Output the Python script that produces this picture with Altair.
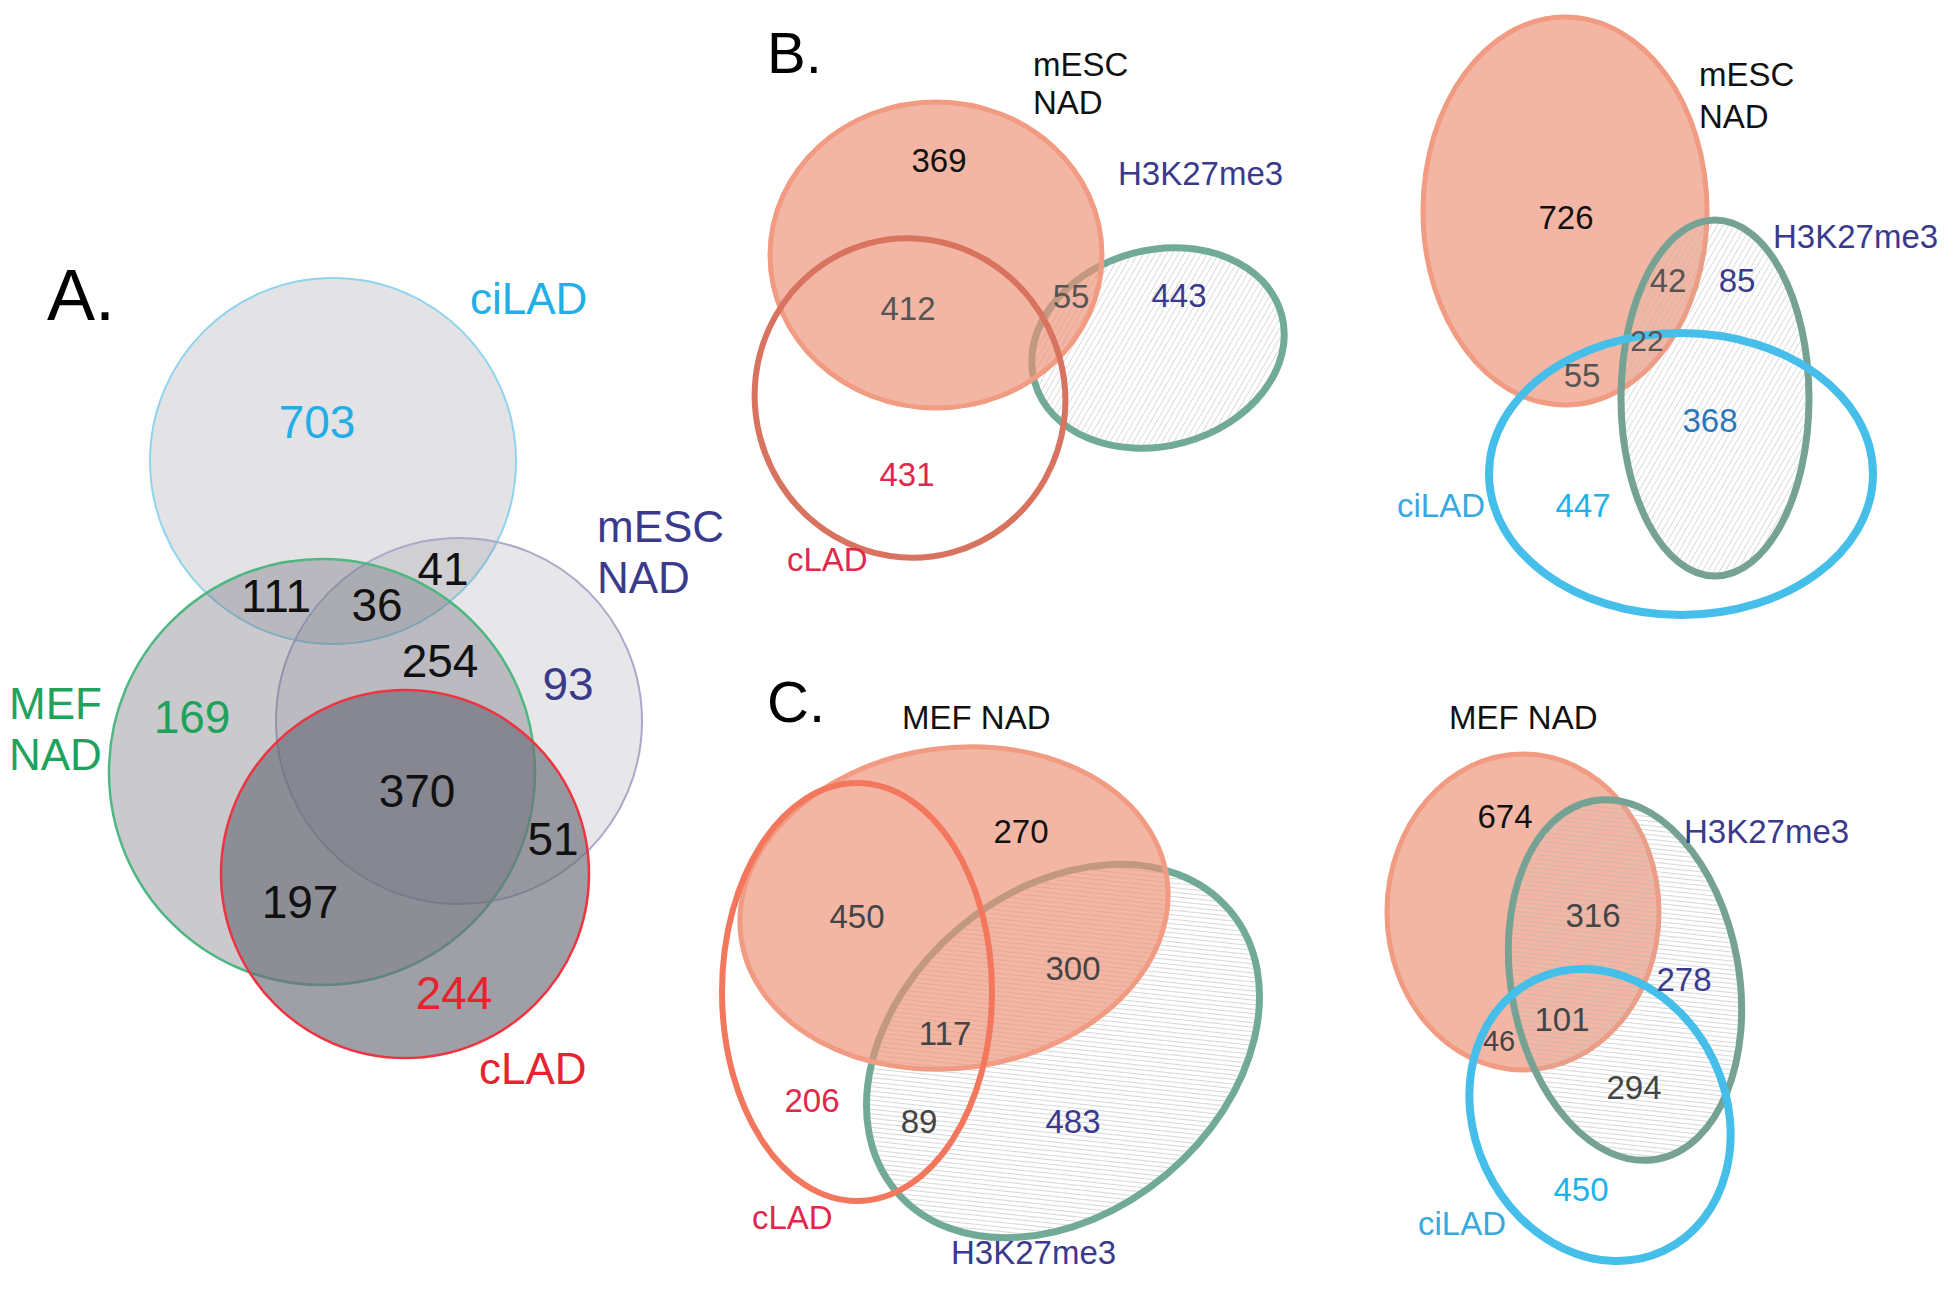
import altair as alt
import pandas as pd
import numpy as np

# ---------------- sets (ellipses), in reference pixel coordinates ----------------
ell_name   = ["A_ciLAD", "A_mESC", "A_MEF", "A_cLAD",
              "B1_H3K", "B1_mESC", "B1_cLAD",
              "B2_mESC", "B2_H3K", "B2_ciLAD",
              "C1_H3K", "C1_MEF", "C1_cLAD",
              "C2_MEF", "C2_H3K", "C2_ciLAD"]
ell_cx     = [333, 459, 322, 405, 1158, 936, 910, 1565, 1715, 1681, 1063, 954, 857, 1523, 1625, 1600]
ell_cy     = [461, 721, 772, 874, 348, 255, 398, 211, 398, 474, 1051, 908, 992, 912, 980, 1115]
ell_rx     = [183, 183, 213, 184, 128, 166, 155, 142, 94, 192, 218, 215, 135, 136, 114, 126]
ell_ry     = [183, 183, 213, 184, 98, 153, 160, 194, 178, 141, 161, 160, 209, 158, 182, 150]
ell_angle  = [0, 0, 0, 0, 345, 0, 345, 0, 0, 0, 320, 352, 0, 0, 350, 335]
ell_fill   = ["#6c6c78", "#6c6c78", "#6c6c78", "#6c6c78",
              "#ffffff", "#ee8f73", "#ffffff",
              "#ee8f73", "#ffffff", "#ffffff",
              "#ffffff", "#ee8f73", "#ffffff",
              "#ee8f73", "#ffffff", "#ffffff"]
ell_fillop = [0.19, 0.16, 0.36, 0.65, 0, 0.65, 0, 0.65, 0, 0, 0, 0.65, 0, 0.65, 0, 0]
ell_stroke = ["#8fd3ee", "#a9a9c9", "#4fb882", "#ef3340",
              "#72aa9a", "#f19b82", "#d8735f",
              "#f19b82", "#76a293", "#45bfea",
              "#72aa9a", "#f19b82", "#f2775c",
              "#f19b82", "#76a293", "#45bfea"]
ell_sw     = [2, 2, 2.5, 2.5, 7, 5, 6, 5, 7, 8, 7, 5, 6, 5, 7, 8]
ell_layer  = [1, 1, 1, 1, 1, 2, 3, 1, 2, 3, 1, 2, 3, 1, 2, 3]
ell_hatch  = [None, None, None, None, -60, None, None, None, -60, None, 6, None, None, None, 6, None]

# ---------------- count labels ----------------
num_text  = ["703", "111", "36", "41", "254", "93", "169", "370", "51", "197", "244",
             "369", "412", "55", "443", "431",
             "726", "42", "85", "22", "55", "368", "447",
             "270", "450", "300", "117", "206", "89", "483",
             "674", "316", "278", "101", "46", "294", "450"]
num_x     = [317, 276, 377, 443, 440, 568, 192, 417, 553, 300, 454,
             939, 908, 1071, 1179, 907,
             1566, 1668, 1737, 1647, 1582, 1710, 1583,
             1021, 857, 1073, 945, 812, 919, 1073,
             1505, 1593, 1684, 1562, 1499, 1634, 1581]
num_y     = [424, 598, 607, 571, 663, 686, 719, 793, 841, 904, 995,
             162, 310, 298, 297, 476,
             219, 282, 282, 342, 377, 422, 507,
             833, 918, 970, 1035, 1102, 1123, 1123,
             818, 917, 981, 1021, 1042, 1089, 1191]
num_color = ["#22aee6", "#111111", "#111111", "#111111", "#111111", "#3a3a8c", "#1fa35c",
             "#111111", "#111111", "#111111", "#e8222e",
             "#111111", "#555555", "#555555", "#3a3a8c", "#e0284a",
             "#111111", "#555555", "#3a3a8c", "#555555", "#555555", "#2b78b8", "#20b2ea",
             "#111111", "#444444", "#444444", "#444444", "#e0284a", "#444444", "#3a3a8c",
             "#111111", "#444444", "#3a3a8c", "#444444", "#444444", "#444444", "#20b2ea"]
num_size  = [46] * 11 + [33] * 8 + [30] + [33] * 14 + [29] + [33] * 2

# ---------------- set names / panel letters (left aligned) ----------------
lab_text  = ["ciLAD", "mESC", "NAD", "MEF", "NAD", "cLAD",
             "A.", "B.", "C.",
             "mESC", "NAD", "H3K27me3", "cLAD",
             "mESC", "NAD", "H3K27me3", "ciLAD",
             "MEF NAD", "cLAD", "H3K27me3",
             "MEF NAD", "H3K27me3", "ciLAD"]
lab_x     = [470, 597, 597, 9, 9, 479,
             47, 767, 767,
             1033, 1033, 1118, 787,
             1699, 1699, 1773, 1397,
             902, 752, 951,
             1449, 1684, 1418]
lab_y     = [301, 529, 580, 706, 757, 1071,
             298, 56, 705,
             66, 104, 175, 561,
             76, 118, 238, 507,
             719, 1219, 1254,
             719, 833, 1225]
lab_color = ["#22aee6", "#3a3a8c", "#3a3a8c", "#1fa35c", "#1fa35c", "#e8222e",
             "#000000", "#000000", "#000000",
             "#111111", "#111111", "#3a3a8c", "#e0284a",
             "#111111", "#111111", "#3a3a8c", "#38a9dc",
             "#111111", "#e0284a", "#3a3a8c",
             "#111111", "#3a3a8c", "#38a9dc"]
lab_size  = [44] * 6 + [72, 58, 58] + [33] * 14

SANS = "Liberation Sans, Arial"

# ---------------- build tables ----------------
def ellipse_path(rx, ry):
    m = max(rx, ry)
    a, b = rx / m, ry / m
    return (f"M{-a:.4f},0A{a:.4f},{b:.4f} 0 1,0 {a:.4f},0"
            f"A{a:.4f},{b:.4f} 0 1,0 {-a:.4f},0Z")

ell = pd.DataFrame({
    "name": ell_name, "cx": ell_cx, "cy": ell_cy, "rx": ell_rx, "ry": ell_ry,
    "angle": ell_angle, "fill": ell_fill, "fillop": ell_fillop,
    "stroke": ell_stroke, "sw": ell_sw, "layer": ell_layer,
})
ell["path"] = [ellipse_path(a, b) for a, b in zip(ell_rx, ell_ry)]
ell["size"] = [(2 * max(a, b)) ** 2 for a, b in zip(ell_rx, ell_ry)]


def hatch_segments(cx, cy, rx, ry, ang, direction, spacing, inset):
    th = np.radians(ang)
    ph = np.radians(direction)
    u = np.array([np.cos(ph), np.sin(ph)])
    n = np.array([-np.sin(ph), np.cos(ph)])
    c, s = np.cos(th), np.sin(th)
    to_local = lambda v: np.array([c * v[0] + s * v[1], -s * v[0] + c * v[1]])
    ul, nl = to_local(u), to_local(n)
    ax, by = rx - inset, ry - inset
    R = max(ax, by)
    rows = []
    for k in np.arange(-R, R + spacing, spacing):
        p0 = nl * k
        A = (ul[0] / ax) ** 2 + (ul[1] / by) ** 2
        B = 2 * (p0[0] * ul[0] / ax ** 2 + p0[1] * ul[1] / by ** 2)
        C = (p0[0] / ax) ** 2 + (p0[1] / by) ** 2 - 1
        d = B * B - 4 * A * C
        if d <= 0:
            continue
        t1 = (-B - np.sqrt(d)) / (2 * A)
        t2 = (-B + np.sqrt(d)) / (2 * A)
        base = np.array([cx, cy]) + n * k
        p1, p2 = base + u * t1, base + u * t2
        rows.append({"x": p1[0], "y": p1[1], "x2": p2[0], "y2": p2[1]})
    return rows


hatch_rows = []
for i, hd in enumerate(ell_hatch):
    if hd is None:
        continue
    spacing = 5.0 if hd < 0 else 4.5
    hatch_rows += hatch_segments(ell_cx[i], ell_cy[i], ell_rx[i], ell_ry[i],
                                 ell_angle[i], hd, spacing, ell_sw[i] / 2)
hatch = pd.DataFrame(hatch_rows)

nums = pd.DataFrame({"text": num_text, "x": num_x, "y": num_y,
                     "color": num_color, "size": num_size})
labs = pd.DataFrame({"text": lab_text, "x": lab_x, "y": lab_y,
                     "color": lab_color, "size": lab_size})

# ---------------- chart ----------------
W, H = 1934, 1281
xs = alt.Scale(domain=[8, 8 + W], nice=False, zero=False)
ys = alt.Scale(domain=[8, 8 + H], nice=False, zero=False, reverse=True)


def ell_layer_chart(level):
    return alt.Chart(ell[ell["layer"] == level]).mark_point(opacity=1, filled=False).encode(
        x=alt.X("cx:Q", scale=xs, axis=None),
        y=alt.Y("cy:Q", scale=ys, axis=None),
        shape=alt.Shape("path:N", scale=None),
        size=alt.Size("size:Q", scale=None),
        angle=alt.Angle("angle:Q", scale=None),
        fill=alt.Fill("fill:N", scale=None),
        fillOpacity=alt.FillOpacity("fillop:Q", scale=None),
        stroke=alt.Stroke("stroke:N", scale=None),
        strokeWidth=alt.StrokeWidth("sw:Q", scale=None),
    )


hatch_chart = alt.Chart(hatch).mark_rule(color="#b3b9b6", strokeWidth=0.8, opacity=0.7).encode(
    x=alt.X("x:Q", scale=xs, axis=None),
    y=alt.Y("y:Q", scale=ys, axis=None),
    x2="x2:Q",
    y2="y2:Q",
)


def text_chart(df, align):
    return alt.Chart(df).mark_text(align=align, baseline="middle", font=SANS).encode(
        x=alt.X("x:Q", scale=xs, axis=None),
        y=alt.Y("y:Q", scale=ys, axis=None),
        text="text:N",
        color=alt.Color("color:N", scale=None),
        size=alt.Size("size:Q", scale=None),
    )


chart = alt.layer(
    ell_layer_chart(1),
    hatch_chart,
    ell_layer_chart(2),
    ell_layer_chart(3),
    text_chart(nums, "center"),
    text_chart(labs, "left"),
).properties(
    width=W, height=H, padding=0,
    autosize=alt.AutoSizeParams(type="none"),
    background="white",
).configure_view(stroke=None)

chart.save("out.html", embed_options={"renderer": "svg", "actions": False})
